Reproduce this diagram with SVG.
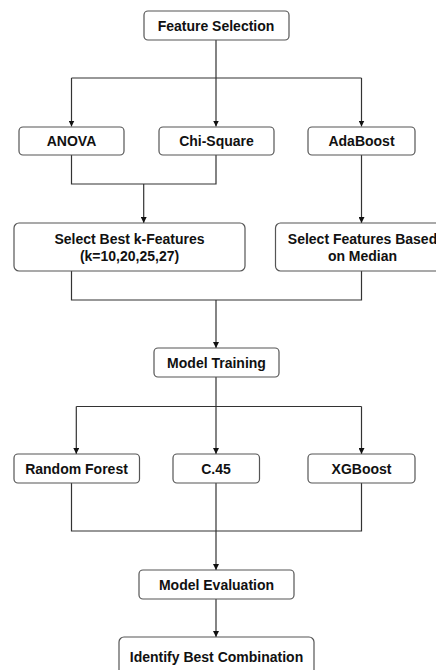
<svg xmlns="http://www.w3.org/2000/svg" width="436" height="670" viewBox="0 0 436 670">
<defs>
<marker id="ah" viewBox="0 0 6 6" refX="6" refY="3" markerWidth="6" markerHeight="6" markerUnits="userSpaceOnUse" orient="auto">
<path d="M0,0 L6,3 L0,6 Z" fill="#111"/>
</marker>
<style>
.n rect{fill:#fff;stroke:#555;stroke-width:1.2}
.n text{font-family:"Liberation Sans",Arial,sans-serif;font-weight:bold;font-size:14px;fill:#111;text-anchor:middle}
.c path{fill:none;stroke:#333;stroke-width:1.2}
.c .a{marker-end:url(#ah)}
</style>
</defs>
<rect width="436" height="670" fill="#fff"/>
<g class="c">
<path d="M216,40 V78 M71.5,78 H361.5"/>
<path class="a" d="M71.5,78 V126.5"/>
<path class="a" d="M216,78 V126.5"/>
<path class="a" d="M361.5,78 V126.5"/>
<path d="M71.5,155 V184 H216 V155"/>
<path class="a" d="M143.7,184 V223"/>
<path class="a" d="M361.5,155 V223"/>
<path d="M71.5,271 V300 H361.5 V271"/>
<path class="a" d="M216,300 V348"/>
<path d="M216,377 V406.5 M76.3,406.5 H361.5"/>
<path class="a" d="M76.3,406.5 V454"/>
<path class="a" d="M216,406.5 V454"/>
<path class="a" d="M361.5,406.5 V454"/>
<path d="M71.5,483 V531 H361.5 V483"/>
<path class="a" d="M216,483 V570"/>
<path class="a" d="M216,599 V637"/>
</g>
<g id="feature-selection" class="n"><rect x="144" y="11" width="145" height="29" rx="4"/><text x="216" y="31">Feature Selection</text></g>
<g id="anova" class="n"><rect x="19" y="127" width="105" height="28" rx="4"/><text x="71.5" y="146">ANOVA</text></g>
<g id="chi-square" class="n"><rect x="159" y="127" width="115" height="28" rx="4"/><text x="216.5" y="146">Chi-Square</text></g>
<g id="adaboost" class="n"><rect x="308" y="127" width="107" height="28" rx="4"/><text x="361.5" y="146">AdaBoost</text></g>
<g id="select-best" class="n"><rect x="14" y="223" width="231" height="48" rx="5"/><text x="129.5" y="244">Select Best k-Features</text><text x="129.5" y="261">(k=10,20,25,27)</text></g>
<g id="select-median" class="n"><rect x="275.5" y="223" width="174" height="48" rx="5"/><text x="362.5" y="244">Select Features Based</text><text x="362.5" y="261">on Median</text></g>
<g id="model-training" class="n"><rect x="154" y="348" width="125" height="29" rx="4"/><text x="216.5" y="368">Model Training</text></g>
<g id="random-forest" class="n"><rect x="14" y="454" width="125.5" height="29" rx="4"/><text x="76.5" y="474">Random Forest</text></g>
<g id="c45" class="n"><rect x="173" y="454" width="86.5" height="29" rx="4"/><text x="216" y="474">C.45</text></g>
<g id="xgboost" class="n"><rect x="308" y="454" width="107" height="29" rx="4"/><text x="361.5" y="474">XGBoost</text></g>
<g id="model-evaluation" class="n"><rect x="139" y="570" width="155" height="29" rx="4"/><text x="216.5" y="590">Model Evaluation</text></g>
<g id="identify-best" class="n"><rect x="119" y="637" width="195" height="40" rx="5"/><text x="216.5" y="662">Identify Best Combination</text></g>
</svg>
